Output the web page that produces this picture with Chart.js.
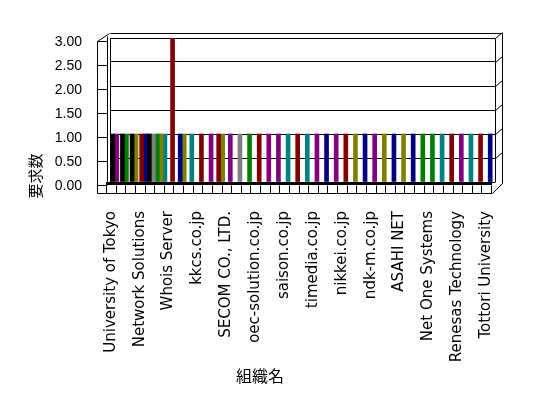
<!DOCTYPE html>
<html>
<head>
<meta charset="utf-8">
<script src="https://cdn.jsdelivr.net/npm/chart.js@4/dist/chart.umd.min.js"></script>
<style>
  html, body { margin: 0; padding: 0; background: #fff; }
  canvas { display: block; }
</style>
</head>
<body>
<canvas id="myChart" width="548" height="398"></canvas>
<script>
const _ = null;

// organisations (only every third name is printed on the axis)
const orgs = [
  'University of Tokyo', '', '', 'Network Solutions', '', '', 'Whois Server', '', '', 'kkcs.co.jp',
  '', '', 'SECOM CO., LTD.', '', '', 'oec-solution.co.jp', '', '', 'saison.co.jp', '',
  '', 'timedia.co.jp', '', '', 'nikkei.co.jp', '', '', 'ndk-m.co.jp', '', '',
  'ASAHI NET', '', '', 'Net One Systems', '', '', 'Renesas Technology', '', '', 'Tottori University'
];

// request counts per series
const blackVals  = [1,1,1,_,1,_,_,_,_,_, _,_,_,_,_,_,_,_,_,_, _,_,_,_,_,_,_,_,_,_, _,_,_,_,_,_,_,_,_,_];
const maroonVals = [_,_,_,1,_,_,3,_,_,1, _,1,_,_,_,1,_,_,_,1, _,_,_,_,1,_,_,_,_,_, _,_,_,_,_,1,_,_,1,_];
const navyVals   = [_,_,_,1,_,_,_,1,_,_, _,_,_,_,_,_,_,_,_,_, _,_,1,_,_,_,1,_,_,1, _,1,_,_,_,_,_,_,_,1];
const grayVals   = [_,_,_,_,1,_,_,_,_,_, _,_,_,1,_,_,_,_,_,_, _,_,_,_,_,_,_,_,_,_, _,_,_,_,_,_,_,_,_,_];
const greenVals  = [_,1,_,_,1,_,_,_,_,_, _,_,_,_,1,_,_,_,_,_, _,_,_,_,_,_,_,_,_,_, _,_,1,1,_,_,_,_,_,_];
const oliveVals  = [_,_,1,_,_,1,_,1,_,_, _,1,_,_,_,_,_,_,_,_, _,_,_,_,_,1,_,_,1,_, 1,_,_,_,_,_,_,_,_,_];
const tealVals   = [_,_,_,_,_,1,_,_,1,_, _,_,_,_,_,_,_,_,1,_, 1,_,_,_,_,_,_,_,_,_, _,_,_,_,1,_,_,1,_,_];
const purpleVals = [1,_,_,_,_,_,_,_,_,_, 1,_,1,_,_,_,1,1,_,_, _,1,_,1,_,_,_,1,_,_, _,_,_,_,_,_,1,_,_,_];

const yTicks = [0, 0.5, 1, 1.5, 2, 2.5, 3];

const series = [
  { label: 's1', data: blackVals,  color: '#000000' },
  { label: 's2', data: maroonVals, color: '#800000' },
  { label: 's3', data: navyVals,   color: '#000080' },
  { label: 's4', data: grayVals,   color: '#808080' },
  { label: 's5', data: greenVals,  color: '#008000' },
  { label: 's6', data: oliveVals,  color: '#808000' },
  { label: 's7', data: tealVals,   color: '#008080' },
  { label: 's8', data: purpleVals, color: '#800080' }
];

// excel-like 3d walls / floor drawn round the plot area
const frame3d = {
  id: 'frame3d',
  beforeDatasetsDraw(chart) {
    const { ctx, chartArea: a, scales: { y } } = chart;
    const L = a.left, R = a.right, T = a.top, B = a.bottom;
    const w = (R - L) / orgs.length;
    const line = (x1, y1, x2, y2) => {
      ctx.beginPath();
      ctx.moveTo(Math.round(x1) + 0.5, Math.round(y1) + 0.5);
      ctx.lineTo(Math.round(x2) + 0.5, Math.round(y2) + 0.5);
      ctx.stroke();
    };
    ctx.save();
    ctx.strokeStyle = '#000';
    ctx.lineWidth = 1;

    // left wall strip
    line(L - 13, T + 3, L - 13, B + 11);
    line(L - 3, T - 2, L - 3, B + 1);
    line(L - 13, T + 3, L - 1, T - 5);
    line(L, T, L, B);
    yTicks.forEach(v => {
      const py = y.getPixelForValue(v) + 3;
      line(L - 13, py, L - 3, py);
    });

    // top edge and right side
    line(L, T - 5, R + 7, T - 5);
    line(R, T, R, B);
    line(R + 7, T - 5, R + 7, B + 1);
    yTicks.forEach(v => {
      const py = y.getPixelForValue(v);
      if (v > 0) line(R, py, R + 7, py - 6);
    });
    line(R + 7, B + 1, R - 3, B + 11);

    // floor
    ctx.fillStyle = '#000';
    ctx.fillRect(L - 4, B, R - L + 1, 3);
    line(L - 13, B + 11, R - 3, B + 11);
    for (let k = 0; k <= orgs.length; k++) {
      const px = L - 4 + k * w;
      line(px, B + 3, px, B + 11);
    }
    ctx.restore();
  },
  afterDraw(chart) {
    const ctx = chart.ctx;
    ctx.save();
    ctx.fillStyle = '#000';
    ctx.textAlign = 'center';
    ctx.textBaseline = 'middle';
    ctx.font = '16px "Noto Sans CJK JP"';
    ctx.fillText('組織名', 260, 376);
    ctx.translate(35, 176);
    ctx.rotate(-Math.PI / 2);
    ctx.font = '15px "Noto Sans CJK JP"';
    ctx.fillText('要求数', 0, 0);
    ctx.restore();
  }
};

const data = {
  labels: orgs,
  datasets: series.map(s => ({
    label: s.label,
    data: s.data,
    backgroundColor: s.color,
    borderWidth: 0,
    barThickness: 4,
    skipNull: true
  }))
};

const config = {
  type: 'bar',
  data,
  options: {
    responsive: false,
    animation: false,
    layout: { padding: { left: 0, top: 38, right: 53, bottom: 0 } },
    plugins: {
      legend: { display: false },
      tooltip: { enabled: false }
    },
    scales: {
      x: {
        grid: { display: false },
        border: { display: false },
        ticks: {
          autoSkip: false,
          minRotation: 90,
          maxRotation: 90,
          padding: 21,
          labelOffset: -4,
          color: '#000',
          font: { family: 'DejaVu Sans', size: 15 }
        },
        afterFit(scale) { scale.height = 216; }
      },
      y: {
        min: 0,
        max: 3,
        grid: { color: '#000', drawTicks: false },
        border: { display: false },
        ticks: {
          stepSize: 0.5,
          padding: 28,
          labelOffset: 4,
          color: '#000',
          font: { family: 'Liberation Sans', size: 14 },
          callback: v => v.toFixed(2)
        },
        afterFit(scale) { scale.width = 110; }
      }
    }
  },
  plugins: [frame3d]
};

const myChart = new Chart(
  document.getElementById('myChart'),
  config
);
</script>
</body>
</html>
